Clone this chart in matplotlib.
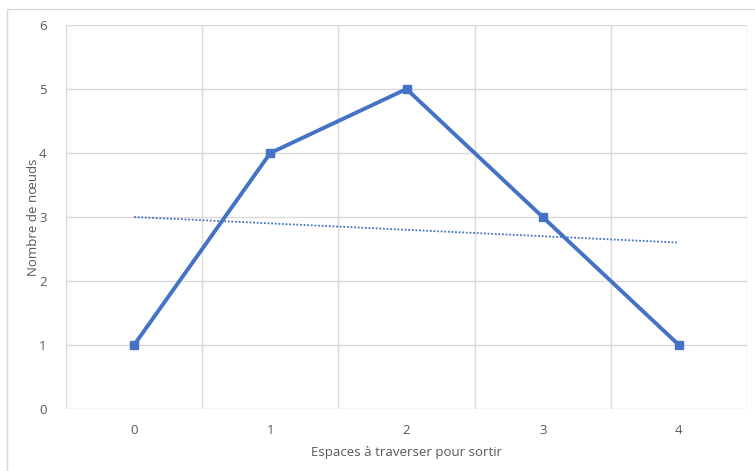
import numpy as np
import matplotlib
matplotlib.use("Agg")
import matplotlib.pyplot as plt
from matplotlib.patches import Rectangle

espaces = [0, 1, 2, 3, 4]
noeuds = [1, 4, 5, 3, 1]
y_ticks = [0, 1, 2, 3, 4, 5, 6]

bleu = "#4472C4"
gris_txt = "#595959"
gris_grille = "#D9D9D9"

plt.rcParams["font.family"] = ["Open Sans", "DejaVu Sans"]

fig = plt.figure(figsize=(7.55, 4.71), dpi=100)
ax = fig.add_axes([66 / 755, 1 - 409 / 471, (747 - 66) / 755, (409 - 25) / 471])

# cadre du graphique
fig.patches.append(Rectangle((7 / 755, -0.1), 1.2, 1.1 - 9 / 471, transform=fig.transFigure,
                             fill=False, edgecolor=gris_grille, linewidth=1))

x = np.arange(len(espaces))
ax.plot(x, noeuds, color=bleu, linewidth=2.8, marker="s", markersize=6, zorder=3)

# courbe de tendance linéaire
a, b = np.polyfit(x, noeuds, 1)
ax.plot(x, a * x + b, color=bleu, linewidth=1.3, linestyle=(0, (1, 1)), zorder=2)

ax.set_xlim(-0.5, len(espaces) - 0.5)
ax.set_ylim(0, 6)
ax.set_xticks(x)
ax.set_xticklabels([str(e) for e in espaces])
ax.set_xticks(np.arange(-0.5, len(espaces), 1), minor=True)
ax.set_yticks(y_ticks)

ax.grid(True, which="minor", axis="x", color=gris_grille, linewidth=1)
ax.grid(True, which="major", axis="y", color=gris_grille, linewidth=1)
ax.set_axisbelow(True)
for s in ax.spines.values():
    s.set_visible(False)
ax.tick_params(which="both", length=0, labelsize=9.5, labelcolor=gris_txt)
ax.tick_params(axis="x", pad=11)
ax.tick_params(axis="y", pad=14)

ax.set_xlabel("Espaces à traverser pour sortir", fontsize=9.5, color=gris_txt, labelpad=6)
ax.set_ylabel("Nombre de nœuds", fontsize=9.5, color=gris_txt, labelpad=-1)

fig.savefig("out.png", dpi=100)
